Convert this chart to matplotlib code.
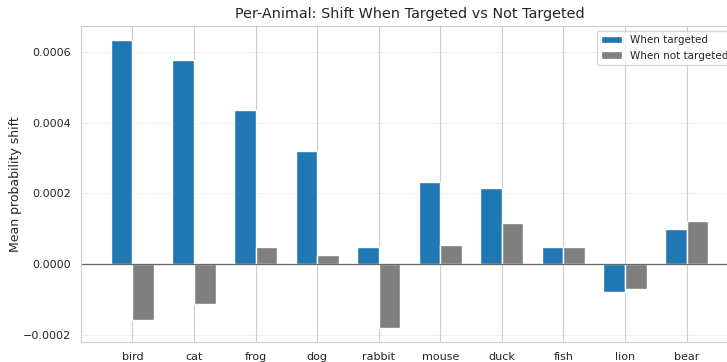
import numpy as np
import matplotlib
matplotlib.use("Agg")
import matplotlib.pyplot as plt
from matplotlib.ticker import MultipleLocator
import seaborn as sns

animals = ["bird", "cat", "frog", "dog", "rabbit", "mouse", "duck", "fish", "lion", "bear"]
targeted = [0.000633, 0.000578, 0.000437, 0.000321, 0.000048, 0.000233, 0.000216, 0.000049, -0.000079, 0.000100]
not_targeted = [-0.000159, -0.000114, 0.000047, 0.000025, -0.000180, 0.000053, 0.000117, 0.000047, -0.000071, 0.000122]


def main():
    sns.set_style("whitegrid")
    fig = plt.figure(figsize=(7.27, 3.62), dpi=100)
    ax = fig.add_axes([0.1114, 0.0552, 0.9037, 0.873])

    pos = np.arange(len(animals))
    width = 0.35
    ax.bar(pos - width / 2, targeted, width, color="#1f77b4", label="When targeted")
    ax.bar(pos + width / 2, not_targeted, width, color="#7f7f7f", label="When not targeted")
    ax.axhline(0, color="dimgray", linewidth=0.9)

    ax.set_xticks(pos)
    ax.set_xticklabels(animals, fontsize=8)
    ax.yaxis.set_major_locator(MultipleLocator(0.0002))
    ax.tick_params(axis="y", labelsize=8)
    ax.set_ylabel("Mean probability shift", fontsize=9, labelpad=1)
    ax.set_title("Per-Animal: Shift When Targeted vs Not Targeted", fontsize=10.4)
    ax.grid(axis="y", alpha=0.3)
    ax.legend(loc="upper right", fontsize=7.5)

    fig.savefig("out.png", dpi=100)


if __name__ == "__main__":
    main()
